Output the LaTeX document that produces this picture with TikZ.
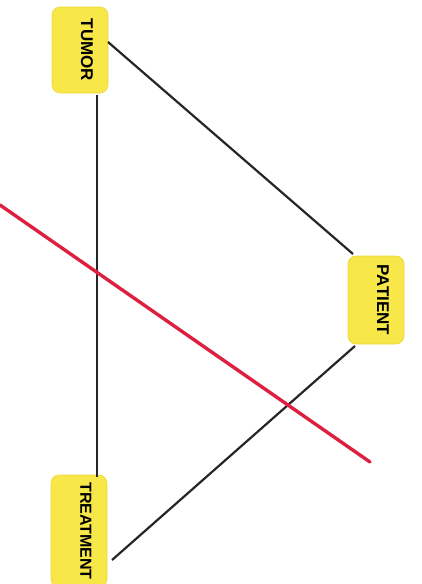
\documentclass[tikz,border=0pt]{standalone}
\usepackage{fontspec}
\setmainfont{Liberation Sans}
\usetikzlibrary{calc}

\definecolor{boxyellow}{RGB}{247,231,72}
\definecolor{boxedge}{RGB}{238,216,60}
\definecolor{cutred}{RGB}{222,32,64}

\begin{document}
\begin{tikzpicture}[
  x=1pt, y=-1pt,
  % yellow tag with its label running top to bottom
  tag/.style={draw=boxedge,line width=0.6pt,fill=boxyellow,rounded corners=8pt,
              rotate=-90,inner sep=4pt,minimum height=56pt,text depth=14pt,
              font=\fontsize{17}{19}\selectfont\bfseries},
  link/.style={line width=2.2pt,black!85},
  cut/.style={line width=3.4pt,cutred,line cap=round},
]

%--- frame -------------------------------------------------------------------
\useasboundingbox (0,0) rectangle (421,584);
\clip (0,0) rectangle (421,584);

%--- the three tags ----------------------------------------------------------
\node[tag,minimum width=86pt] (tumor) at (80,50) {TUMOR};
\node[tag,minimum width=88pt] (patient) at (376,300) {PATIENT};
\node[tag,minimum width=112pt,font=\fontsize{16}{18}\selectfont\bfseries]
  (treat) at (79,531) {TREATMENT};

%--- links between the tags --------------------------------------------------
\draw[link] ($(tumor)+(28,-8)$) -- ($(patient)+(-23,-46)$);
\draw[link] ($(tumor)+(17,45)$) -- ($(treat)+(18,-54)$);
\draw[link] ($(patient)+(-21,46)$) -- ($(treat)+(33,29)$);

%--- red cut across the picture ----------------------------------------------
\coordinate (cutA) at (0,205);
\coordinate (cutB) at (370,462);
\draw[cut] (cutA) -- (cutB);

\end{tikzpicture}
\end{document}
